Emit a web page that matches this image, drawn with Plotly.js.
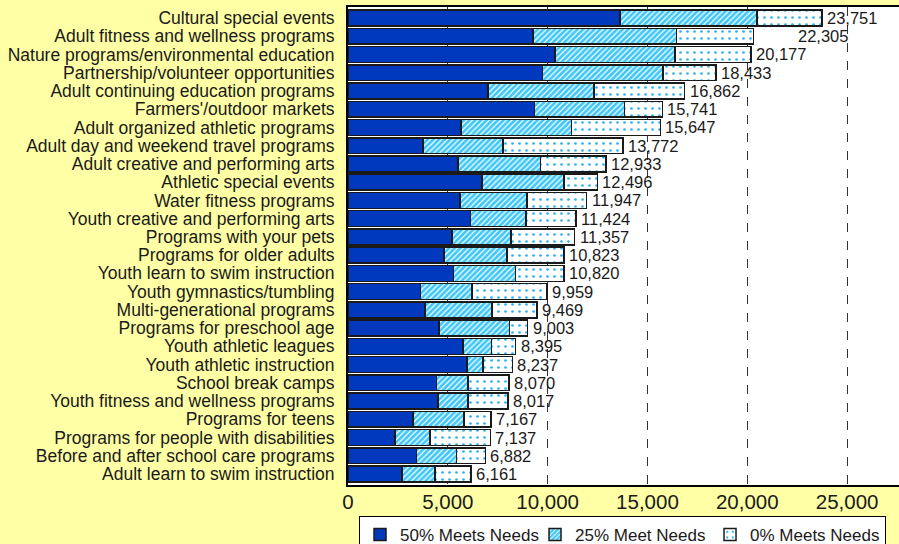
<!DOCTYPE html>
<html>
<head>
<meta charset="utf-8">
<script src="https://cdn.plot.ly/plotly-3.0.1.min.js"></script>
<style>
  html, body { margin: 0; padding: 0; background: #FFFFA6; }
  #plot { width: 899px; height: 544px; }
</style>
</head>
<body>
<div id="plot"></div>
<script>
// Programs, top to bottom
let programs = [
    "Cultural special events",
    "Adult fitness and wellness programs",
    "Nature programs/environmental education",
    "Partnership/volunteer opportunities",
    "Adult continuing education programs",
    "Farmers'/outdoor markets",
    "Adult organized athletic programs",
    "Adult day and weekend travel programs",
    "Adult creative and performing arts",
    "Athletic special events",
    "Water fitness programs",
    "Youth creative and performing arts",
    "Programs with your pets",
    "Programs for older adults",
    "Youth learn to swim instruction",
    "Youth gymnastics/tumbling",
    "Multi-generational programs",
    "Programs for preschool age",
    "Youth athletic leagues",
    "Youth athletic instruction",
    "School break camps",
    "Youth fitness and wellness programs",
    "Programs for teens",
    "Programs for people with disabilities",
    "Before and after school care programs",
    "Adult learn to swim instruction"
];

// Households per need level
let meets50 = [13620, 9265, 10358, 9731, 7007, 9336, 5663, 3763, 5519, 6720, 5609, 6129, 5197,
               4820, 5286, 3638, 3853, 4552, 5752, 5967, 4444, 4498, 3261, 2365, 3441, 2706];
let meet25  = [6860, 7185, 6021, 6039, 5322, 4516, 5537, 3996, 4122, 4104, 3351, 2795, 2975,
               3154, 3101, 2562, 3369, 3530, 1434, 807, 1559, 1505, 2545, 1739, 1989, 1649];
let meets0  = [3271, 3855, 3798, 2663, 4533, 1889, 4447, 6013, 3292, 1672, 2987, 2500, 3185,
               2849, 2433, 3759, 2247, 921, 1209, 1463, 2067, 2014, 1361, 3033, 1452, 1806];

// Totals shown at the end of each bar
let totals = [23751, 22305, 20177, 18433, 16862, 15741, 15647, 13772, 12933, 12496, 11947, 11424, 11357,
              10823, 10820, 9959, 9469, 9003, 8395, 8237, 8070, 8017, 7167, 7137, 6882, 6161];

let outline = {color: "#1a1a1a", width: 1.5};

let trace1 = {
    x: meets50, y: programs, name: "50% Meets Needs", type: "bar", orientation: "h",
    marker: {color: "#0038BE", line: outline},
    hoverinfo: "x+name"
};

let trace2 = {
    x: meet25, y: programs, name: "25% Meet Needs", type: "bar", orientation: "h",
    marker: {color: "#3FC6F8", line: outline,
             pattern: {shape: "/", fgcolor: "#ffffff", bgcolor: "#3FC6F8", size: 4, solidity: 0.3}},
    hoverinfo: "x+name"
};

let trace3 = {
    x: meets0, y: programs, name: "0% Meets Needs", type: "bar", orientation: "h",
    marker: {color: "#ffffff", line: outline,
             pattern: {shape: ".", fgcolor: "#2FB0F0", bgcolor: "#ffffff", size: 7, solidity: 0.12}},
    hoverinfo: "x+name"
};

// total labels at the bar ends
let totalLabels = totals.map((v, i) => ({
    x: v, y: programs[i], xref: "x", yref: "y",
    text: v.toLocaleString("en-US"),
    showarrow: false, xanchor: "left", xshift: 3,
    font: {size: 16.5, color: "#1a1a1a"}
}));

let layout = {
    width: 899, height: 544,
    barmode: "stack",
    bargap: 0.13,
    paper_bgcolor: "#FFFFA6",
    plot_bgcolor: "#ffffff",
    font: {family: "Liberation Sans, Arial, sans-serif", color: "#1a1a1a"},
    margin: {l: 348, r: 0, t: 7, b: 59, autoexpand: false},
    xaxis: {
        range: [0, 27600],
        tickvals: [0, 5000, 10000, 15000, 20000, 25000],
        tickformat: ",d",
        tickfont: {size: 20.5},
        showgrid: true, griddash: "dash", gridcolor: "#333", gridwidth: 1,
        zeroline: false,
        showline: true, linecolor: "#000", linewidth: 2, mirror: true,
        ticks: "", ticklabelstandoff: -3
    },
    yaxis: {
        autorange: "reversed",
        tickmode: "array", tickvals: programs,
        tickfont: {size: 17.5},
        showline: true, linecolor: "#000", linewidth: 2,
        showgrid: false, ticks: "", ticklabelstandoff: 8
    },
    annotations: totalLabels,
    showlegend: true,
    legend: {
        orientation: "h",
        x: 0.02, xanchor: "left",
        y: -0.065, yanchor: "top",
        bgcolor: "#ffffff", bordercolor: "#000", borderwidth: 1,
        font: {size: 17},
        traceorder: "normal",
        itemwidth: 30,
        entrywidth: 130
    }
};

Plotly.newPlot("plot", [trace1, trace2, trace3], layout, {displayModeBar: false});
</script>
</body>
</html>
